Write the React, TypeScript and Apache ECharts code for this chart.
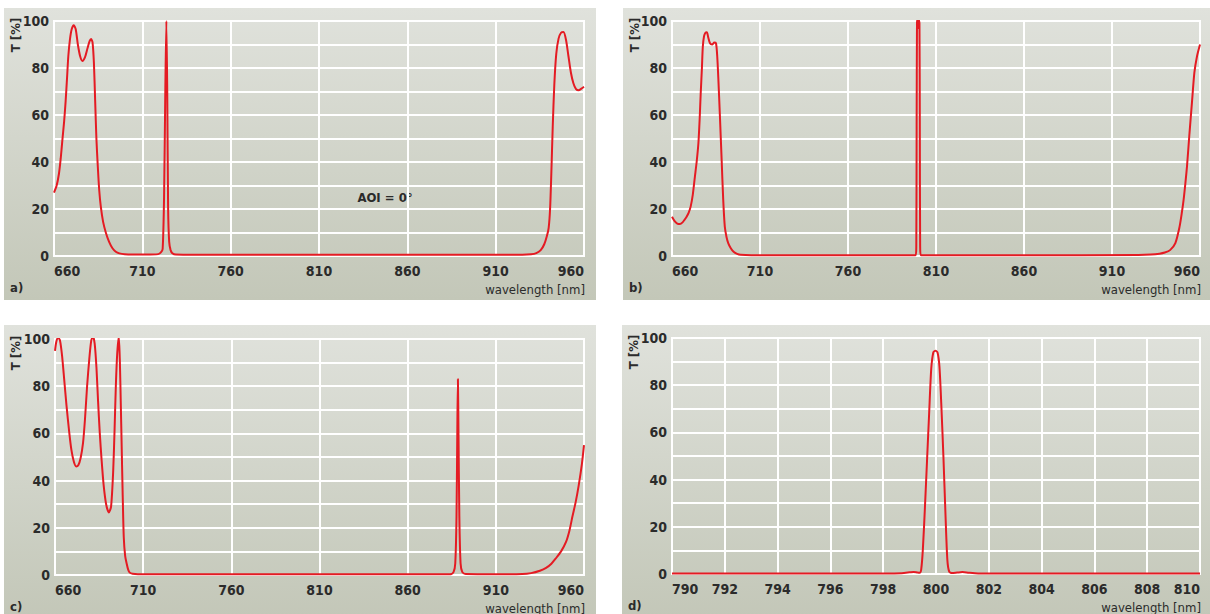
import React, { useEffect, useRef } from "react";
import * as echarts from "echarts";

const FONT = "'DejaVu Sans Condensed', 'Liberation Sans Narrow', sans-serif";
const TEXT = "#2b2b2b";
const RED = "#e41b23";

// Panel a) AOI = 0°
const wlA = [660, 661.5, 662.8, 663.8, 664.7, 665.7, 666.6, 667.4, 668.1, 669, 670, 671.2, 672.3, 673.5, 674.8, 676.1, 677.5, 679, 680.2, 681, 681.8, 682.6, 683.3, 684, 684.8, 685.6, 686.5, 687.8, 689.4, 691.2, 693.1, 695, 697, 700, 705, 712, 719, 720.5, 721.5, 722.3, 723, 723.6, 724.1, 724.6, 725.2, 726, 727, 729, 740, 780, 830, 880, 925, 930, 933, 935.5, 937.5, 939, 940, 940.8, 941.5, 942.3, 943.2, 944.3, 945.6, 947, 948.4, 949.8, 951.2, 952.6, 954, 955.5, 957, 958.5, 960];
const tA = [27, 30, 35, 41.5, 49, 57, 66, 76, 85, 92, 96.5, 98.2, 96.5, 90, 85, 83, 84.5, 88.5, 91.5, 92.3, 91, 82, 66, 50, 38, 28, 21, 14.5, 9.8, 6, 3.3, 1.8, 1.1, 0.7, 0.6, 0.6, 0.8, 1.5, 3, 25, 70, 100, 70, 20, 6, 2.5, 1.2, 0.6, 0.5, 0.5, 0.5, 0.5, 0.5, 0.7, 1.2, 2.5, 5, 8.5, 12, 20, 35, 55, 73, 86, 92.5, 95, 95.3, 92, 85, 78, 73.5, 71, 70.5, 71.2, 72];

// Panel b)
const wlB = [660, 661.5, 663, 664.5, 666, 667.3, 668.3, 669.5, 670.6, 671.8, 673, 674, 675, 675.7, 676.3, 677, 677.5, 678.2, 679, 679.8, 680.6, 681.6, 682.8, 684, 685, 685.7, 686.3, 687.2, 688.2, 689.1, 690, 691, 692, 693.5, 695, 697, 699, 705, 760, 798.4, 798.8, 799.0, 799.2, 799.4, 799.8, 800.0, 800.2, 800.6, 800.8, 801.0, 801.4, 860, 925, 932, 937, 940, 943, 946, 948.4, 949.6, 950.7, 951.7, 952.6, 954, 955.5, 956.8, 958.3, 960];
const tB = [16.7, 14.8, 13.8, 13.6, 14.3, 15.6, 16.7, 18.5, 21, 26, 33.7, 40, 48, 58, 69, 80, 89, 93.5, 95, 95.2, 93, 90.5, 90, 90.8, 90.5, 85, 76, 60, 41, 24, 12.5, 8, 5.4, 3.2, 1.8, 0.9, 0.5, 0.3, 0.3, 0.3, 4, 55, 99, 100.5, 97, 97, 100.5, 99, 55, 4, 0.3, 0.3, 0.4, 0.6, 1, 1.5, 2.5, 5.5, 12.5, 18, 24, 31, 38, 52, 66, 78, 85, 90];

// Panel c)
const wlC = [660, 660.8, 661.8, 662.8, 664, 665.2, 666.5, 668, 669.3, 670.7, 672, 673.2, 674.5, 675.9, 677, 678.2, 679.5, 680.6, 681.6, 682.5, 683.5, 684.4, 685.4, 686.4, 687.6, 689, 690.5, 691.8, 693, 693.8, 694.5, 695.3, 696.2, 696.8, 697.3, 697.8, 698.3, 699, 699.8, 700.6, 701.5, 702.4, 704, 707, 760, 860, 884, 886, 887, 887.7, 888.2, 888.5, 888.8, 889.3, 890, 891, 893, 910, 925, 930, 935, 938.5, 941.5, 944, 947, 949.8, 951.8, 953.5, 955.3, 957, 958.8, 960];
const tC = [95, 99, 100.5, 99.5, 93, 83, 72, 61, 53, 48, 46, 46.5, 49.5, 56, 66, 80, 92, 99.5, 101, 98, 88, 74, 60, 49, 38, 30, 26.5, 29, 44, 62, 80, 94, 101, 90, 73, 55, 37, 16, 8, 5, 2.3, 1, 0.5, 0.3, 0.3, 0.3, 0.3, 1.2, 5, 25, 65, 83, 62, 25, 5, 1.2, 0.4, 0.3, 0.4, 0.8, 1.8, 3, 4.8, 7, 10, 14, 19, 25, 31, 38, 47, 55];

// Panel d)
const wlD = [790, 798, 798.7, 799, 799.15, 799.3, 799.38, 799.44, 799.5, 799.58, 799.66, 799.74, 799.82, 799.9, 799.98, 800.06, 800.13, 800.2, 800.28, 800.36, 800.43, 800.5, 800.6, 800.8, 801, 801.25, 801.6, 810];
const tD = [0.2, 0.25, 0.35, 0.7, 0.9, 0.6, 0.5, 2, 10, 28, 48, 68, 87, 94, 94.6, 93.8, 88, 72, 50, 25, 6, 1, 0.4, 0.6, 0.8, 0.5, 0.25, 0.2];

const xTicksWide = { min: 660, max: 960, interval: 50 };
const xTicksNarrow = { min: 790, max: 810, interval: 2 };

const panels = [
  { id: "a", wl: wlA, t: tA, ticks: xTicksWide, grid: { left: 54, top: 21, width: 530, height: 235 }, bg: { x: 4, y: 8 } },
  { id: "b", wl: wlB, t: tB, ticks: xTicksWide, grid: { left: 672, top: 21, width: 528, height: 235 }, bg: { x: 623, y: 8 } },
  { id: "c", wl: wlC, t: tC, ticks: xTicksWide, grid: { left: 55, top: 339, width: 529, height: 236 }, bg: { x: 4, y: 325 } },
  { id: "d", wl: wlD, t: tD, ticks: xTicksNarrow, grid: { left: 672, top: 338, width: 528, height: 236 }, bg: { x: 622, y: 325 } },
];

export default function App() {
  const ref = useRef<HTMLDivElement>(null);
  useEffect(() => {
    if (!ref.current) return;
    const chart = echarts.init(ref.current, undefined, { renderer: "svg" });
    const split = { show: true, lineStyle: { color: "#ffffff", width: 2 } };
    const graphics: any[] = [];
    panels.forEach((p) => {
      graphics.push({
        type: "rect",
        z: -100,
        shape: { x: p.bg.x, y: p.bg.y, width: 592, height: 292 },
        style: {
          fill: new echarts.graphic.LinearGradient(0, 0, 0, 1, [
            { offset: 0, color: "#e0e2dc" },
            { offset: 1, color: "#c3c7b8" },
          ]),
        },
      });
      const g = p.grid;
      graphics.push({
        type: "text",
        x: p.bg.x + 11,
        y: g.top + 14,
        rotation: Math.PI / 2,
        style: { text: "T [%]", font: `bold 13px ${FONT}`, fill: TEXT, align: "center", verticalAlign: "middle" },
      });
      graphics.push({
        type: "text",
        x: p.bg.x + 6,
        y: g.top + g.height + 31,
        style: { text: p.id + ")", font: `bold 13px ${FONT}`, fill: TEXT, align: "left", verticalAlign: "middle" },
      });
      graphics.push({
        type: "text",
        x: g.left + g.width + 1,
        y: g.top + g.height + 33,
        style: { text: "wavelength [nm]", font: `13px ${FONT}`, fill: TEXT, align: "right", verticalAlign: "middle" },
      });
    });
    graphics.push({
      type: "text",
      x: 385,
      y: 197,
      style: { text: "AOI = 0°", font: `bold 13px ${FONT}`, fill: TEXT, align: "center", verticalAlign: "middle" },
    });

    chart.setOption({
      animation: false,
      grid: panels.map((p) => ({ ...p.grid, show: true, borderColor: "#ffffff", borderWidth: 2, backgroundColor: "transparent" })),
      xAxis: panels.map((p, i) => ({
        type: "value",
        gridIndex: i,
        min: p.ticks.min,
        max: p.ticks.max,
        interval: p.ticks.interval,
        axisLine: { show: false },
        axisTick: { show: false },
        splitLine: split,
        axisLabel: {
          color: TEXT,
          fontFamily: FONT,
          fontWeight: "bold",
          fontSize: 14,
          margin: 8,
          alignMinLabel: "left",
          alignMaxLabel: "right",
        },
      })),
      yAxis: panels.map((p, i) => ({
        type: "value",
        gridIndex: i,
        min: 0,
        max: 100,
        interval: 10,
        axisLine: { show: false },
        axisTick: { show: false },
        splitLine: split,
        axisLabel: {
          color: TEXT,
          fontFamily: FONT,
          fontWeight: "bold",
          fontSize: 14,
          margin: 5,
          formatter: (v: number) => (v % 20 === 0 ? String(v) : ""),
        },
      })),
      series: panels.map((p, i) => ({
        type: "line",
        xAxisIndex: i,
        yAxisIndex: i,
        data: p.wl.map((w, k) => [w, p.t[k]]),
        showSymbol: false,
        smooth: 0.25,
        lineStyle: { color: RED, width: 2 },
        z: 5,
      })),
      graphic: graphics,
    });
    return () => chart.dispose();
  }, []);
  return <div ref={ref} style={{ position: "fixed", left: 0, top: 0, width: 1210, height: 614, background: "#ffffff" }} />;
}
